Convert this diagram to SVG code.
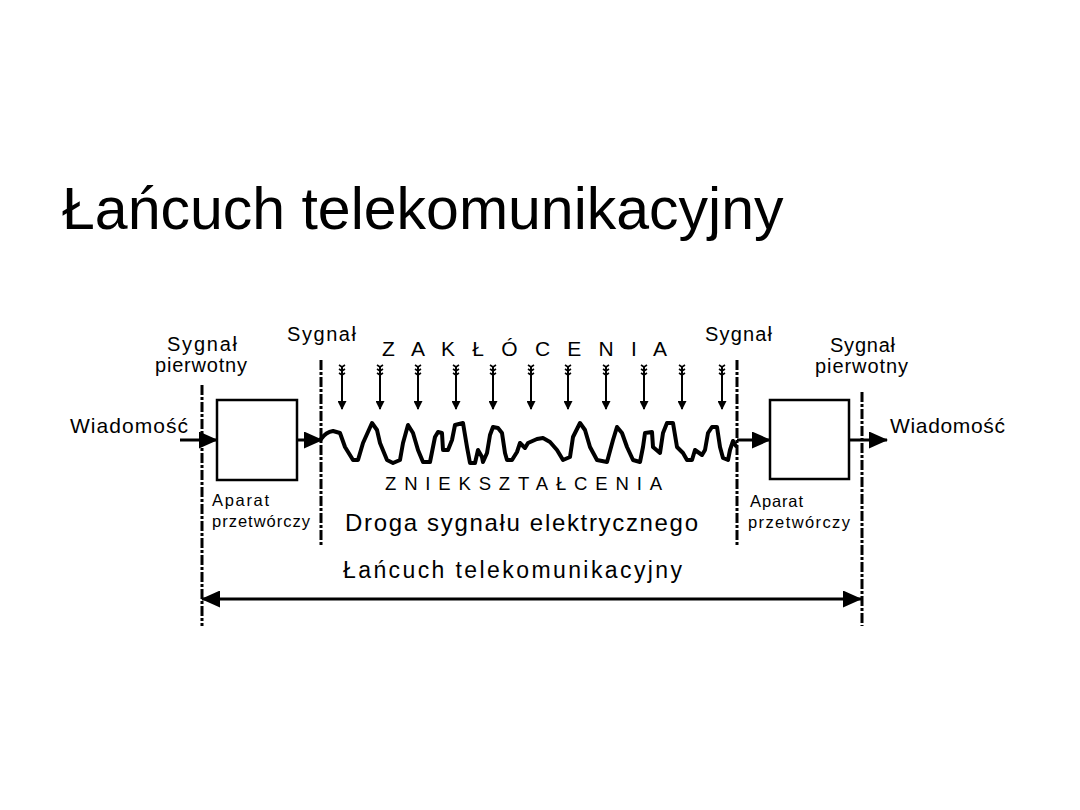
<svg xmlns="http://www.w3.org/2000/svg" width="1080" height="810" viewBox="0 0 1080 810">
<style>
text{font-family:"Liberation Sans",Arial,sans-serif;fill:#000}
.lbl{font-size:20px}
.sm{font-size:16.5px}
.box{fill:#fff;stroke:#000;stroke-width:2.5}
.dd{stroke:#000;stroke-width:3;stroke-dasharray:10 2 3 2;fill:none}
.arr{stroke:#000;stroke-width:3;fill:none;marker-end:url(#ah)}
.noise{stroke:#000;stroke-width:2;fill:none;marker-end:url(#sh)}
.fl{stroke:#000;stroke-width:1.6;fill:none}
.wave{stroke:#000;stroke-width:4;fill:none;stroke-linejoin:round;stroke-linecap:round}
</style>
<defs>
<marker id="ah" markerUnits="userSpaceOnUse" viewBox="0 0 19 17" refX="18" refY="8.5" markerWidth="19" markerHeight="17" orient="auto-start-reverse">
<path d="M0,0 L19,8.5 L0,17 z" fill="#000"/>
</marker>
<marker id="sh" markerUnits="userSpaceOnUse" viewBox="0 0 9 9" refX="8" refY="4.5" markerWidth="9" markerHeight="9" orient="auto">
<path d="M0,0 L9,4.5 L0,9 z" fill="#000"/>
</marker>
<g id="fletch">
<path class="fl" d="M-3,0 L0,2 L3,0 M-3,4 L0,6 L3,4 M-3,8 L0,10 L3,8"/>
</g>
</defs>
<rect width="1080" height="810" fill="#fff"/>

<text x="62" y="229" font-size="59">Łańcuch telekomunikacyjny</text>

<g id="boundaries">
<line class="dd" x1="202" y1="385" x2="202" y2="626"/>
<line class="dd" x1="321" y1="360" x2="321" y2="546"/>
<line class="dd" x1="737" y1="360" x2="737" y2="546"/>
<line class="dd" x1="862" y1="392" x2="862" y2="626"/>
</g>

<g id="node-apparatus-left">
<rect class="box" x="217" y="400" width="80" height="80"/>
<text class="sm" x="212" y="506" textLength="57" lengthAdjust="spacing">Aparat</text>
<text class="sm" x="212" y="527" textLength="98" lengthAdjust="spacing">przetwórczy</text>
</g>

<g id="node-apparatus-right">
<rect class="box" x="770" y="400" width="79" height="79"/>
<text class="sm" x="750" y="507" textLength="53" lengthAdjust="spacing">Aparat</text>
<text class="sm" x="748" y="528" textLength="102" lengthAdjust="spacing">przetwórczy</text>
</g>

<g id="labels">
<text class="lbl" x="167" y="351" textLength="70" lengthAdjust="spacing">Sygnał</text>
<text class="lbl" x="155" y="372" textLength="92" lengthAdjust="spacing">pierwotny</text>
<text x="70" y="433" font-size="21" textLength="118" lengthAdjust="spacing">Wiadomość</text>
<text class="lbl" x="287" y="341" textLength="69" lengthAdjust="spacing">Sygnał</text>
<text class="lbl" x="705" y="341" textLength="67" lengthAdjust="spacing">Sygnał</text>
<text class="lbl" x="830" y="352" textLength="65" lengthAdjust="spacing">Sygnał</text>
<text class="lbl" x="815" y="373" textLength="93" lengthAdjust="spacing">pierwotny</text>
<text x="890" y="433" font-size="21" textLength="115" lengthAdjust="spacing">Wiadomość</text>
<text x="382" y="356" font-size="21" textLength="285" lengthAdjust="spacing">Z A K Ł Ó C E N I A</text>
<text x="385" y="490" font-size="18.5" textLength="277" lengthAdjust="spacing">ZNIEKSZTAŁCENIA</text>
<text x="345" y="531" font-size="24" textLength="353" lengthAdjust="spacing">Droga sygnału elektrycznego</text>
<text x="343" y="578" font-size="23" textLength="339" lengthAdjust="spacing">Łańcuch telekomunikacyjny</text>
</g>

<g id="connectors">
<path class="arr" d="M180,440 L217,440"/>
<path class="arr" d="M297,440 L322,440"/>
<path class="arr" d="M737,440 L770,440"/>
<path class="arr" d="M849,440 L887,440"/>
<path class="arr" d="M202,599 L861,599" style="marker-start:url(#ah)"/>
</g>

<g id="noise">
<path class="noise" d="M342,366 V409"/><use href="#fletch" x="342" y="365"/>
<path class="noise" d="M380,366 V409"/><use href="#fletch" x="380" y="365"/>
<path class="noise" d="M418,366 V409"/><use href="#fletch" x="418" y="365"/>
<path class="noise" d="M456,366 V409"/><use href="#fletch" x="456" y="365"/>
<path class="noise" d="M493,366 V409"/><use href="#fletch" x="493" y="365"/>
<path class="noise" d="M531,366 V409"/><use href="#fletch" x="531" y="365"/>
<path class="noise" d="M568,366 V409"/><use href="#fletch" x="568" y="365"/>
<path class="noise" d="M606,366 V409"/><use href="#fletch" x="606" y="365"/>
<path class="noise" d="M644,366 V409"/><use href="#fletch" x="644" y="365"/>
<path class="noise" d="M682,366 V409"/><use href="#fletch" x="682" y="365"/>
<path class="noise" d="M722,366 V409"/><use href="#fletch" x="722" y="365"/>
</g>

<g id="distorted-signal">
<path class="wave" d="M321,439 Q326,432 333,431 L340,433 L345,447 L353,460 L358,460 L363,443 L372,423 L377,430 L380,443 L387,460 L393,463 L400,460 L403,443 L408,425 L413,433 L418,450 L423,462 L430,462 L435,437 L438,432 L442,433 L443,450 L448,450 L452,440 L455,425 L463,423 L467,447 L470,463 L475,463 L478,450 L482,457 L483,462 L487,453 L490,435 L493,427 L498,428 L502,433 L505,453 L507,460 L512,460 L517,452 L520,443 L525,448 L528,443 L537,439 L543,438 L550,442 L557,450 L563,460 L570,457 L573,437 L580,423 L585,430 L590,447 L597,460 L607,462 L613,440 L617,427 L622,433 L627,447 L633,460 L640,462 L643,447 L645,433 L652,432 L653,447 L660,453 L663,433 L667,423 L673,423 L677,447 L683,453 L687,460 L692,460 L695,450 L702,455 L705,450 L708,433 L712,427 L717,427 L720,447 L723,458 L728,460 L730,450 L733,441 L736,446"/>
</g>
</svg>
